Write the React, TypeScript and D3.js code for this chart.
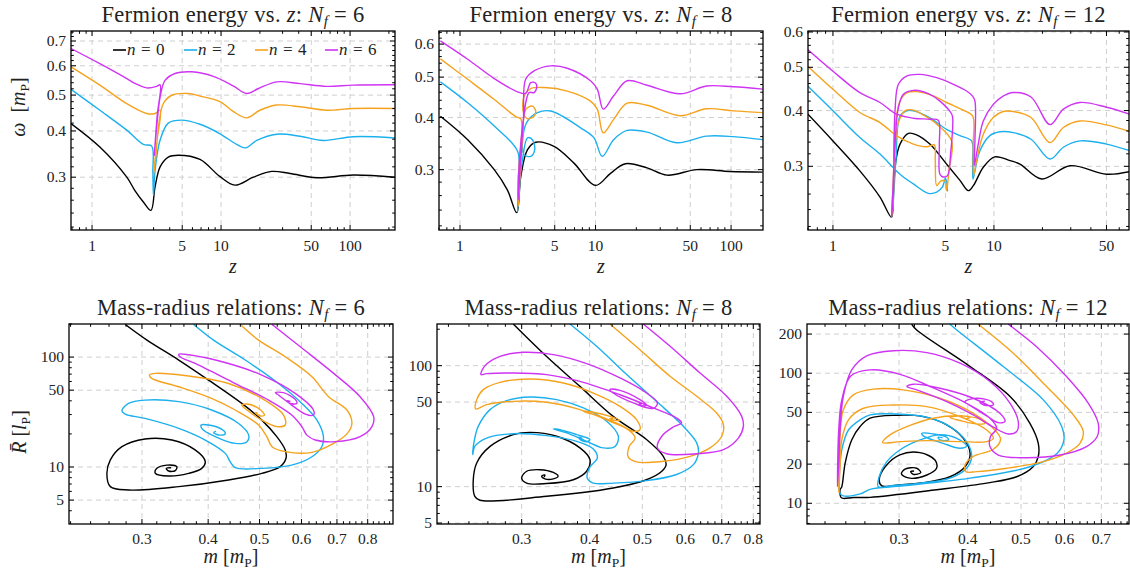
import React from 'react';
import * as d3 from 'd3';

type Pt = [number, number];

// ---------- top row: fermion energy omega vs z ----------
const tl0: Pt[] = [[0.687,0.419],[1.15,0.362],[1.86,0.300],[2.15,0.276],[2.5,0.257],[2.86,0.244],[3.08,0.2825],[3.37,0.320],[3.90,0.340],[4.67,0.344],[6.87,0.335],[9.82,0.301],[12.8,0.2855],[17.8,0.300],[24.7,0.311],[34.3,0.307],[55.2,0.299],[106,0.304],[223,0.300]];
const tl2: Pt[] = [[0.687,0.518],[1.15,0.455],[1.86,0.402],[2.50,0.368],[2.90,0.364],[2.96,0.31],[2.99,0.268],[3.08,0.313],[3.37,0.378],[3.90,0.420],[4.95,0.428],[6.87,0.417],[9.82,0.393],[13.2,0.368],[15.5,0.360],[18.9,0.377],[27.0,0.392],[41,0.387],[62,0.377],[106,0.386],[223,0.383]];
const tl4: Pt[] = [[0.687,0.596],[1.15,0.532],[1.86,0.474],[2.65,0.446],[3.08,0.446],[3.37,0.455],[3.2,0.38],[2.99,0.304],[3.12,0.340],[3.27,0.410],[3.57,0.4745],[4.15,0.4995],[5.58,0.505],[6.87,0.497],[9.82,0.480],[12.5,0.451],[15.8,0.434],[20.0,0.455],[27,0.470],[41,0.465],[65.9,0.455],[106,0.460],[223,0.460]];
const tl6: Pt[] = [[0.687,0.668],[1.15,0.608],[1.86,0.554],[2.15,0.5375],[2.65,0.523],[3.17,0.528],[3.37,0.533],[3.2,0.44],[3.04,0.344],[3.17,0.410],[3.37,0.494],[3.68,0.548],[4.40,0.572],[5.93,0.578],[8.73,0.562],[12.5,0.529],[15.8,0.505],[19.5,0.521],[27.0,0.543],[41,0.537],[65.9,0.528],[106,0.532],[223,0.533]];

const tm0: Pt[] = [[0.717,0.403],[1.14,0.354],[1.79,0.300],[2.24,0.268],[2.62,0.2366],[2.81,0.289],[3.15,0.335],[3.62,0.349],[4.94,0.341],[6.93,0.311],[10,0.275],[12.9,0.294],[16.6,0.310],[24.0,0.303],[33.7,0.291],[56,0.300],[98,0.297],[171,0.296]];
const tm2: Pt[] = [[0.717,0.487],[1.14,0.434],[1.79,0.3815],[2.66,0.332],[2.69,0.284],[2.66,0.238],[2.75,0.2735],[2.89,0.317],[3.15,0.3576],[3.42,0.354],[3.56,0.335],[3.33,0.323],[2.97,0.326],[2.94,0.3675],[3.15,0.392],[3.73,0.411],[4.67,0.4146],[7.76,0.378],[9.72,0.358],[11.2,0.323],[13.6,0.354],[17.1,0.3725],[24.0,0.369],[39.8,0.348],[66,0.361],[104,0.360],[171,0.354]];
const tm4: Pt[] = [[0.717,0.553],[1.14,0.494],[1.79,0.442],[2.58,0.402],[2.81,0.397],[2.72,0.30],[2.69,0.245],[2.78,0.294],[2.90,0.36],[3.05,0.418],[3.42,0.426],[3.62,0.4146],[3.52,0.403],[3.15,0.3973],[2.94,0.411],[2.97,0.450],[3.33,0.4694],[4.17,0.472],[6.19,0.463],[9.18,0.438],[10.3,0.419],[11.4,0.3675],[13.6,0.396],[17.1,0.433],[24,0.428],[42.2,0.404],[66,0.420],[104,0.415],[171,0.411]];
const tm6: Pt[] = [[0.717,0.611],[1.14,0.552],[1.79,0.496],[2.66,0.461],[3.05,0.457],[3.33,0.4853],[3.62,0.4834],[3.68,0.472],[3.52,0.459],[3.23,0.459],[2.95,0.40],[2.72,0.30],[2.69,0.254],[2.78,0.305],[2.94,0.40],[3.05,0.494],[3.52,0.5175],[4.67,0.532],[6.19,0.525],[9.18,0.490],[10.3,0.468],[11.4,0.419],[13.6,0.451],[17.1,0.490],[24,0.478],[42.2,0.456],[66,0.476],[104,0.474],[171,0.468]];

const tr0: Pt[] = [[0.697,0.393],[1.0,0.342],[1.47,0.293],[1.96,0.256],[2.31,0.2307],[2.37,0.260],[2.46,0.309],[2.61,0.3365],[2.94,0.3555],[3.31,0.353],[4.0,0.3365],[5.08,0.3035],[6.15,0.279],[6.93,0.2646],[7.45,0.2716],[8.59,0.2985],[10.1,0.315],[12.6,0.309],[14.5,0.3035],[19.8,0.281],[29.7,0.301],[50.1,0.288],[70,0.292]];
const tr2Left: Pt[] = [[0.697,0.454],[1.0,0.3995],[1.47,0.348],[1.96,0.3196],[2.61,0.288],[3.16,0.274],[3.91,0.261],[4.41,0.2625],[4.80,0.270],[4.99,0.2825],[5.06,0.2786],[5.15,0.2637]];
const tr2Arc: Pt[] = [[2.31,0.2307],[2.37,0.251],[2.46,0.309],[2.61,0.389],[2.87,0.3995],[3.16,0.3995],[4.0,0.385],[5.08,0.363],[6.15,0.3515],[7.26,0.342],[7.37,0.309],[7.41,0.281],[7.62,0.293],[8.18,0.325],[9.44,0.3515],[10.9,0.3585],[13.2,0.357],[17,0.345],[22.3,0.3115],[27,0.331],[34.2,0.342],[50,0.3365],[70,0.325]];
const tr4: Pt[] = [[0.697,0.503],[1.0,0.4465],[1.47,0.396],[1.96,0.376],[2.49,0.351],[3.16,0.3365],[3.82,0.332],[4.26,0.335],[4.32,0.309],[4.41,0.2716],[4.67,0.278],[4.96,0.2786],[5.08,0.2646],[5.25,0.293],[5.46,0.342],[4.41,0.373],[3.64,0.391],[3.16,0.401],[2.80,0.3995],[2.55,0.376],[2.43,0.331],[2.35,0.260],[2.31,0.2307],[2.37,0.251],[2.43,0.3666],[2.61,0.420],[2.87,0.438],[3.31,0.441],[4.20,0.4315],[5.08,0.417],[6.45,0.401],[7.37,0.389],[7.44,0.3365],[7.48,0.286],[7.80,0.309],[8.59,0.354],[9.9,0.386],[11.4,0.398],[13.2,0.398],[17,0.386],[22.3,0.339],[27,0.3666],[34.2,0.379],[50,0.3715],[70,0.359]];
const tr6: Pt[] = [[0.697,0.548],[1.0,0.490],[1.47,0.4386],[1.96,0.417],[2.49,0.3925],[3.16,0.3845],[4.0,0.3826],[4.51,0.3806],[4.58,0.3365],[4.62,0.288],[4.84,0.284],[5.15,0.286],[5.38,0.320],[5.54,0.386],[5.43,0.3945],[4.62,0.420],[4.0,0.435],[3.16,0.444],[2.74,0.435],[2.55,0.406],[2.43,0.3365],[2.35,0.260],[2.31,0.2307],[2.37,0.26],[2.43,0.3995],[2.55,0.458],[2.87,0.478],[3.47,0.482],[4.41,0.474],[5.59,0.458],[6.76,0.4425],[7.37,0.431],[7.62,0.420],[7.62,0.342],[7.55,0.301],[7.99,0.3365],[8.59,0.379],[9.9,0.413],[11.4,0.431],[13.2,0.439],[17,0.429],[22.3,0.372],[27,0.403],[34.2,0.417],[50,0.407],[70,0.3925]];

// ---------- bottom row: mass-radius relations ----------
const bl0: Pt[] = [[0.279,198],[0.3066,142.7],[0.352,94],[0.4007,61.8],[0.463,37.9],[0.505,26.7],[0.539,18.9],[0.559,14.3],[0.561,12.0],[0.547,10.07],[0.505,8.75],[0.437,7.62],[0.352,6.63],[0.283,6.18],[0.2615,6.63],[0.2576,8.75],[0.2615,11.6],[0.275,15.3],[0.304,18.0],[0.3418,17.6],[0.378,14.3],[0.395,11.2],[0.389,9.72],[0.3674,8.75],[0.337,8.28],[0.318,8.75],[0.320,9.72],[0.3344,10.4],[0.349,10.07],[0.3467,9.26],[0.337,9.2],[0.3334,9.72],[0.3405,9.86]];
const bl2: Pt[] = [[0.3755,198],[0.4095,142.7],[0.47,94],[0.543,57.5],[0.601,37.9],[0.6417,26.7],[0.66,18.9],[0.6555,15.3],[0.628,12.4],[0.575,10.4],[0.505,9.72],[0.45,9.86],[0.44,11.2],[0.431,13.3],[0.395,17.6],[0.352,22.5],[0.304,27.7],[0.279,30.3],[0.275,32.5],[0.283,37.9],[0.304,40.6],[0.352,39.3],[0.406,33.0],[0.4566,24.9],[0.477,19.5],[0.4735,17.0],[0.45,16.4],[0.4125,18.9],[0.389,22.5],[0.388,24.1],[0.4007,24.1],[0.4246,22.0],[0.431,20.2],[0.4217,19.5],[0.4095,20.5],[0.4137,21.2]];
const bl4: Pt[] = [[0.46,198],[0.498,142.7],[0.559,100.7],[0.628,66.2],[0.675,43.6],[0.731,33],[0.747,24.9],[0.731,20],[0.69,16.4],[0.628,13.6],[0.559,13.8],[0.528,15.3],[0.516,18.9],[0.498,24.1],[0.45,33.0],[0.406,42.1],[0.352,53.7],[0.313,64],[0.31,68.6],[0.318,71.1],[0.3674,67.2],[0.437,57.5],[0.505,42.1],[0.555,29.7],[0.559,24.1],[0.539,23.3],[0.505,26.7],[0.4735,33.0],[0.463,36.6],[0.4735,37.4],[0.498,34.1],[0.511,29.7],[0.502,29.1],[0.491,31.2],[0.496,31.0]];
const bl6: Pt[] = [[0.528,198],[0.597,124],[0.69,71.1],[0.774,43.6],[0.821,28.7],[0.815,23.3],[0.774,18.9],[0.695,17.0],[0.637,17.6],[0.6143,19.5],[0.601,23.3],[0.575,29.7],[0.52,40.6],[0.45,57.5],[0.378,87.5],[0.354,100.7],[0.352,106],[0.3674,105],[0.437,87.5],[0.505,68.6],[0.584,46.8],[0.632,33.0],[0.632,29.7],[0.61,30.3],[0.575,36.6],[0.543,45.2],[0.5355,47.5],[0.555,47.5],[0.584,41.2],[0.588,37.9],[0.5715,37.9],[0.563,40.1],[0.572,39.5]];

const bm0: Pt[] = [[0.2895,221],[0.3334,119],[0.384,67.4],[0.442,38.1],[0.509,24.5],[0.5465,17.8],[0.553,15.2],[0.543,13.4],[0.509,11.4],[0.442,9.75],[0.3334,8.32],[0.2514,7.71],[0.246,8.32],[0.2444,11.4],[0.248,15.7],[0.2624,21.5],[0.2895,26.9],[0.311,28.1],[0.348,26.1],[0.384,20.9],[0.4006,16.7],[0.395,13.4],[0.3733,11.4],[0.3334,10.6],[0.3064,10.7],[0.300,11.8],[0.3064,13.4],[0.324,13.8],[0.343,13.1],[0.350,12.2],[0.343,11.6],[0.331,11.6],[0.3265,12.2],[0.331,12.5],[0.33,12.0]];
const bm2: Pt[] = [[0.368,221],[0.412,144.6],[0.468,84.4],[0.531,50.7],[0.595,31.5],[0.6295,23.0],[0.634,19.0],[0.6208,15.2],[0.578,12.6],[0.509,11.2],[0.442,10.7],[0.4064,10.7],[0.396,11.8],[0.3995,14.3],[0.4133,17.3],[0.4064,20.5],[0.3788,23.7],[0.3334,26.4],[0.2895,27.4],[0.2586,25.2],[0.246,21.5],[0.2438,18.4],[0.245,23.0],[0.2496,31.5],[0.2624,43.3],[0.2815,51.4],[0.311,55.1],[0.348,52.4],[0.3895,44.7],[0.43,34.7],[0.4517,26.1],[0.4454,21.5],[0.424,20.9],[0.395,23.7],[0.363,27.8],[0.343,30.0],[0.353,29.6],[0.3788,26.9],[0.4006,24.5],[0.395,23.5],[0.384,24.6],[0.382,25.6],[0.388,25.1]];
const bm4: Pt[] = [[0.436,221],[0.495,135.5],[0.5624,81.7],[0.6295,55.8],[0.685,40.6],[0.705,32.5],[0.70,26.1],[0.666,20.9],[0.612,17.8],[0.5465,16.2],[0.488,16.0],[0.471,17.6],[0.473,21.5],[0.485,25.2],[0.471,29.6],[0.436,34.7],[0.384,43.3],[0.3334,49.8],[0.2895,50.7],[0.2586,47.6],[0.247,43.9],[0.248,52.4],[0.255,63.4],[0.2737,72.8],[0.311,77.6],[0.358,71.9],[0.4064,59.4],[0.455,46.1],[0.488,35.8],[0.495,29.6],[0.4815,28.7],[0.455,32.5],[0.418,38.1],[0.3895,42.0],[0.4064,41.2],[0.436,38.1],[0.455,35.3],[0.4454,35.3],[0.436,36.5],[0.442,36.7]];
const bm6: Pt[] = [[0.502,221],[0.5624,144.6],[0.6385,86.9],[0.715,55.8],[0.7616,38.1],[0.767,31.5],[0.751,25.2],[0.705,20.2],[0.6295,18.7],[0.554,18.7],[0.533,20.9],[0.543,26.1],[0.570,31.1],[0.5905,33.6],[0.578,36.9],[0.524,44.7],[0.455,57.5],[0.384,74.2],[0.3334,84.3],[0.2895,87.0],[0.2586,85.9],[0.2525,84.3],[0.2569,100],[0.2737,119.4],[0.302,128.9],[0.343,123.3],[0.395,104],[0.455,79.1],[0.509,59.4],[0.533,49.2],[0.524,44.4],[0.4815,49.2],[0.442,59.4],[0.436,63.4],[0.455,62.5],[0.495,52.4],[0.509,47.3],[0.4985,46.7],[0.4937,49.2],[0.499,48.6]];

const br0: Pt[] = [[0.3163,238],[0.323,215],[0.404,112.5],[0.4776,66.2],[0.519,41.2],[0.5375,28.9],[0.5375,22.9],[0.526,19.1],[0.491,16.0],[0.433,14.3],[0.351,12.7],[0.2657,11.1],[0.248,11.07],[0.2375,10.9],[0.2352,11.1],[0.2343,12.7],[0.236,13.4],[0.2393,20.3],[0.246,30.7],[0.2548,38.9],[0.2657,45.1],[0.297,47.5],[0.332,46.4],[0.3663,40.1],[0.3926,31.6],[0.404,24.2],[0.3955,19.1],[0.3713,16.0],[0.332,14.4],[0.297,13.8],[0.279,13.6],[0.276,15.1],[0.283,19.1],[0.301,23.6],[0.3275,24.5],[0.3487,21.5],[0.351,18.6],[0.337,16.5],[0.314,15.6],[0.303,16.8],[0.3076,18.3],[0.323,18.6],[0.3285,17.2],[0.3185,16.7],[0.315,17.5],[0.3195,17.7]];
const br2: Pt[] = [[0.3713,238],[0.382,215],[0.464,112.5],[0.549,62.4],[0.593,38.9],[0.5985,30.7],[0.582,24.3],[0.519,19.1],[0.404,15.6],[0.3055,13.6],[0.2657,12.8],[0.2548,11.8],[0.2375,11.4],[0.2343,11.9],[0.2336,16.0],[0.236,25.7],[0.2427,36.6],[0.2548,43.8],[0.2657,47.8],[0.297,48.6],[0.337,45.9],[0.3713,38.9],[0.398,29.8],[0.4066,22.9],[0.398,18.6],[0.3713,15.6],[0.3275,14.3],[0.293,13.7],[0.275,13.4],[0.276,16.0],[0.285,20.9],[0.301,25.7],[0.3275,30.7],[0.356,33.6],[0.382,31.6],[0.398,27.6],[0.3873,26.5],[0.361,28.9],[0.332,33.0],[0.33,34.5],[0.3464,34.1],[0.3663,32.2],[0.369,30.7],[0.356,30.7],[0.3535,32.2],[0.36,31.8]];
const br4: Pt[] = [[0.418,238],[0.484,142.5],[0.5566,78.9],[0.6223,47.8],[0.649,35.6],[0.64,28.9],[0.605,24.3],[0.549,20.9],[0.471,18.6],[0.415,17.5],[0.397,17.5],[0.3955,19.7],[0.4094,22.9],[0.4453,26.0],[0.459,31.0],[0.4482,36.6],[0.4094,49.2],[0.356,64.2],[0.3055,74.5],[0.2694,75.4],[0.2477,68.1],[0.2375,52.2],[0.2343,32.6],[0.2333,19.1],[0.233,12.1],[0.2343,19.1],[0.236,30.7],[0.2427,43.8],[0.2585,53.8],[0.293,57.0],[0.337,55.4],[0.3873,46.4],[0.433,36.6],[0.4453,31.6],[0.433,29.8],[0.3873,29.8],[0.337,30.3],[0.3013,29.8],[0.280,29.3],[0.2888,33.6],[0.31,38.9],[0.3464,45.1],[0.3873,47.0],[0.421,44.3],[0.43,41.2],[0.415,40.7],[0.3873,43.3],[0.3713,45.6],[0.39,47.0],[0.404,45.9],[0.398,44.8],[0.3917,45.6]];
const br6: Pt[] = [[0.474,238],[0.5337,160],[0.605,94.3],[0.663,58.7],[0.691,41.2],[0.688,32.6],[0.658,27.3],[0.5886,23.5],[0.505,22.4],[0.4546,23.5],[0.439,27.3],[0.440,32.6],[0.4516,37.8],[0.439,45.1],[0.398,58.7],[0.3464,77],[0.3013,98],[0.2657,106],[0.245,95],[0.236,62.4],[0.233,36.6],[0.232,20.3],[0.2317,13.4],[0.233,20.3],[0.2343,36.6],[0.2375,66.2],[0.246,106],[0.262,136],[0.293,149],[0.337,144],[0.3873,119.4],[0.439,86.3],[0.4776,58.7],[0.4943,42.5],[0.491,35.6],[0.474,34.1],[0.4453,38.5],[0.4094,47.8],[0.3663,60.5],[0.323,74.5],[0.31,78.9],[0.3185,82.3],[0.356,76.7],[0.4094,64.2],[0.4576,49.2],[0.4675,42.5],[0.4546,41.7],[0.433,47.0],[0.4094,54.7],[0.3955,60.5],[0.415,64.2],[0.442,60.5],[0.4453,57.0],[0.428,57.0],[0.421,59.8],[0.43,61.0]];

// ---------- axes ----------
const zMajor = [1, 5, 10, 50, 100];
const zMinor = [0.7, 0.8, 0.9, 2, 3, 4, 6, 7, 8, 9, 20, 30, 40, 60, 70, 80, 90, 200];
const wMajor = [0.3, 0.4, 0.5, 0.6, 0.7];
const wMinor = d3.range(22, 76, 2).map((v) => v / 100).filter((v) => !wMajor.some((m) => Math.abs(m - v) < 1e-6));
const mMajor = [0.3, 0.4, 0.5, 0.6, 0.7, 0.8];
const mMinor = d3.range(20, 92, 2).map((v) => v / 100).filter((v) => !mMajor.some((m) => Math.abs(m - v) < 1e-6));
const rMajorA = [5, 10, 50, 100];
const rMinorA = [3, 4, 6, 7, 8, 9, 20, 30, 40, 60, 70, 80, 90, 200];
const rMajorB = [10, 20, 50, 100, 200];
const rMinorB = [7, 8, 9, 30, 40, 60, 70, 80, 90];

const C = { n0: '#000000', n2: '#1cb0ee', n4: '#f5a31e', n6: '#cf33f4' };
const FONT = "'Liberation Serif', 'DejaVu Serif', 'Noto Serif', serif";
const INK = '#222';

type PanelDef = {
  id: string;
  box: [number, number, number, number];
  xDom: [number, number];
  yDom: [number, number];
  xMajor: number[];
  xMinor: number[];
  yMajor: number[];
  yMinor: number[];
  series: { pts: Pt[]; color: string }[];
  kind: 'top' | 'bottom';
  nf: number;
};

const panels: PanelDef[] = [
  { id: 'tl', box: [71, 31, 395, 230], xDom: [0.687, 223], yDom: [0.216, 0.745], xMajor: zMajor, xMinor: zMinor, yMajor: wMajor, yMinor: wMinor, kind: 'top', nf: 6,
    series: [{ pts: tl0, color: C.n0 }, { pts: tl2, color: C.n2 }, { pts: tl4, color: C.n4 }, { pts: tl6, color: C.n6 }] },
  { id: 'tm', box: [439, 31, 763, 230], xDom: [0.70, 172], yDom: [0.215, 0.645], xMajor: zMajor, xMinor: zMinor, yMajor: wMajor, yMinor: wMinor, kind: 'top', nf: 8,
    series: [{ pts: tm0, color: C.n0 }, { pts: tm2, color: C.n2 }, { pts: tm4, color: C.n4 }, { pts: tm6, color: C.n6 }] },
  { id: 'tr', box: [808, 31, 1129, 230], xDom: [0.70, 69], yDom: [0.216, 0.603], xMajor: zMajor, xMinor: zMinor, yMajor: wMajor, yMinor: wMinor, kind: 'top', nf: 12,
    series: [{ pts: tr0, color: C.n0 }, { pts: tr2Left, color: C.n2 }, { pts: tr2Arc, color: C.n2 }, { pts: tr4, color: C.n4 }, { pts: tr6, color: C.n6 }] },
  { id: 'bl', box: [69, 324, 393, 524], xDom: [0.2185, 0.893], yDom: [3.03, 200], xMajor: mMajor, xMinor: mMinor, yMajor: rMajorA, yMinor: rMinorA, kind: 'bottom', nf: 6,
    series: [{ pts: bl0, color: C.n0 }, { pts: bl2, color: C.n2 }, { pts: bl4, color: C.n4 }, { pts: bl6, color: C.n6 }] },
  { id: 'bm', box: [437, 324, 760, 524], xDom: [0.2096, 0.823], yDom: [4.91, 221], xMajor: mMajor, xMinor: mMinor, yMajor: rMajorA, yMinor: rMinorA, kind: 'bottom', nf: 8,
    series: [{ pts: bm0, color: C.n0 }, { pts: bm2, color: C.n2 }, { pts: bm4, color: C.n4 }, { pts: bm6, color: C.n6 }] },
  { id: 'br', box: [807, 324, 1129, 524], xDom: [0.204, 0.786], yDom: [6.93, 239], xMajor: mMajor, xMinor: mMinor, yMajor: rMajorB, yMinor: rMinorB, kind: 'bottom', nf: 12,
    series: [{ pts: br0, color: C.n0 }, { pts: br2, color: C.n2 }, { pts: br4, color: C.n4 }, { pts: br6, color: C.n6 }] },
];

const legendItems = [
  { n: 0, color: C.n0, x: 113 },
  { n: 2, color: C.n2, x: 184 },
  { n: 4, color: C.n4, x: 255 },
  { n: 6, color: C.n6, x: 325 },
];

function Panel({ p }: { p: PanelDef }) {
  const [x0, y0, x1, y1] = p.box;
  const xs = d3.scaleLog().domain(p.xDom).range([x0, x1]);
  const ys = d3.scaleLog().domain(p.yDom).range([y1, y0]);
  const line = d3
    .line<Pt>()
    .x((d) => xs(d[0]))
    .y((d) => ys(d[1]))
    .curve(d3.curveCatmullRom.alpha(0.5));
  const inX = (v: number) => v >= p.xDom[0] && v <= p.xDom[1];
  const inY = (v: number) => v >= p.yDom[0] && v <= p.yDom[1];
  const xMaj = p.xMajor.filter(inX);
  const yMaj = p.yMajor.filter(inY);
  const xMin = p.xMinor.filter(inX);
  const yMin = p.yMinor.filter(inY);
  const LM = 5;
  const Lm = 2.8;
  const cx = (x0 + x1) / 2;
  const top = p.kind === 'top';

  return (
    <g>
      <defs>
        <clipPath id={`clip-${p.id}`}>
          <rect x={x0} y={y0} width={x1 - x0} height={y1 - y0} />
        </clipPath>
      </defs>
      <g stroke="#cfcfcf" strokeWidth={1} strokeDasharray="5 4">
        {xMaj.map((v) => (
          <line key={`gx${v}`} x1={xs(v)} x2={xs(v)} y1={y0} y2={y1} />
        ))}
        {yMaj.map((v) => (
          <line key={`gy${v}`} x1={x0} x2={x1} y1={ys(v)} y2={ys(v)} />
        ))}
      </g>
      <g clipPath={`url(#clip-${p.id})`} fill="none" strokeWidth={1.4} strokeLinejoin="round">
        {p.series.map((s, i) => (
          <path key={i} d={line(s.pts) || ''} stroke={s.color} />
        ))}
      </g>
      <g stroke="#000" strokeWidth={1}>
        {xMaj.map((v) => (
          <g key={`tx${v}`}>
            <line x1={xs(v)} x2={xs(v)} y1={y1} y2={y1 - LM} />
            <line x1={xs(v)} x2={xs(v)} y1={y0} y2={y0 + LM} />
          </g>
        ))}
        {xMin.map((v) => (
          <g key={`tmx${v}`}>
            <line x1={xs(v)} x2={xs(v)} y1={y1} y2={y1 - Lm} />
            <line x1={xs(v)} x2={xs(v)} y1={y0} y2={y0 + Lm} />
          </g>
        ))}
        {yMaj.map((v) => (
          <g key={`ty${v}`}>
            <line x1={x0} x2={x0 + LM} y1={ys(v)} y2={ys(v)} />
            <line x1={x1} x2={x1 - LM} y1={ys(v)} y2={ys(v)} />
          </g>
        ))}
        {yMin.map((v) => (
          <g key={`tmy${v}`}>
            <line x1={x0} x2={x0 + Lm} y1={ys(v)} y2={ys(v)} />
            <line x1={x1} x2={x1 - Lm} y1={ys(v)} y2={ys(v)} />
          </g>
        ))}
      </g>
      <rect x={x0} y={y0} width={x1 - x0} height={y1 - y0} fill="none" stroke="#000" strokeWidth={1.3} />
      <g style={{ fontFamily: FONT }} fontSize={15.5} fill={INK}>
        {xMaj.map((v) => (
          <text key={`lx${v}`} x={xs(v)} y={y1 + (top ? 21 : 19.5)} textAnchor="middle">
            {String(v)}
          </text>
        ))}
        {yMaj.map((v) => (
          <text key={`ly${v}`} x={x0 - 5} y={ys(v) + 5} textAnchor="end">
            {String(v)}
          </text>
        ))}
      </g>
      <text x={cx} y={y0 - 9} textAnchor="middle" style={{ fontFamily: FONT, letterSpacing: '0.3px' }} fontSize={22.5} fill={INK}>
        {top ? 'Fermion energy vs. ' : 'Mass-radius relations: '}
        {top ? <tspan fontStyle="italic">z</tspan> : null}
        {top ? ':  ' : ' '}
        <tspan fontStyle="italic">N</tspan>
        <tspan fontStyle="italic" fontSize={15} dy={4}>f</tspan>
        <tspan dy={-4}>{` = ${p.nf}`}</tspan>
      </text>
      {top ? (
        <text x={cx} y={y1 + 43} textAnchor="middle" style={{ fontFamily: FONT }} fontSize={20} fontStyle="italic" fill={INK}>
          z
        </text>
      ) : (
        <text x={cx} y={y1 + 38.5} textAnchor="middle" style={{ fontFamily: FONT }} fontSize={20} fill={INK}>
          <tspan fontStyle="italic">m</tspan>
          {' ['}
          <tspan fontStyle="italic">m</tspan>
          <tspan fontSize={13.5} dy={4}>P</tspan>
          <tspan dy={-4}>]</tspan>
        </text>
      )}
    </g>
  );
}

export default function App() {
  return (
    <svg
      width={1130}
      height={574}
      viewBox="0 0 1130 574"
      style={{ position: 'absolute', left: 0, top: 0, background: '#fff' }}
    >
      <rect x={0} y={0} width={1130} height={574} fill="#fff" />
      {panels.map((p) => (
        <Panel key={p.id} p={p} />
      ))}
      {/* legend */}
      <g style={{ fontFamily: FONT, letterSpacing: '0.6px' }} fontSize={17} fill={INK}>
        {legendItems.map((it) => (
          <g key={it.n}>
            <line x1={it.x} x2={it.x + 13} y1={50} y2={50} stroke={it.color} strokeWidth={1.6} />
            <text x={it.x + 14} y={55}>
              <tspan fontStyle="italic">n</tspan>
              {` = ${it.n}`}
            </text>
          </g>
        ))}
      </g>
      {/* y axis titles */}
      <text transform="translate(25,107) rotate(-90)" textAnchor="middle" style={{ fontFamily: FONT }} fontSize={20} fill={INK}>
        <tspan fontStyle="italic">ω</tspan>
        {'\u2002['}
        <tspan fontStyle="italic">m</tspan>
        <tspan fontSize={13.5} dy={4}>P</tspan>
        <tspan dy={-4}>]</tspan>
      </text>
      <text transform="translate(26,432) rotate(-90)" textAnchor="middle" style={{ fontFamily: FONT }} fontSize={20} fill={INK}>
        <tspan fontStyle="italic">{'R\u0304'}</tspan>
        {' ['}
        <tspan fontStyle="italic">l</tspan>
        <tspan fontSize={13.5} dy={4}>P</tspan>
        <tspan dy={-4}>]</tspan>
      </text>
    </svg>
  );
}
